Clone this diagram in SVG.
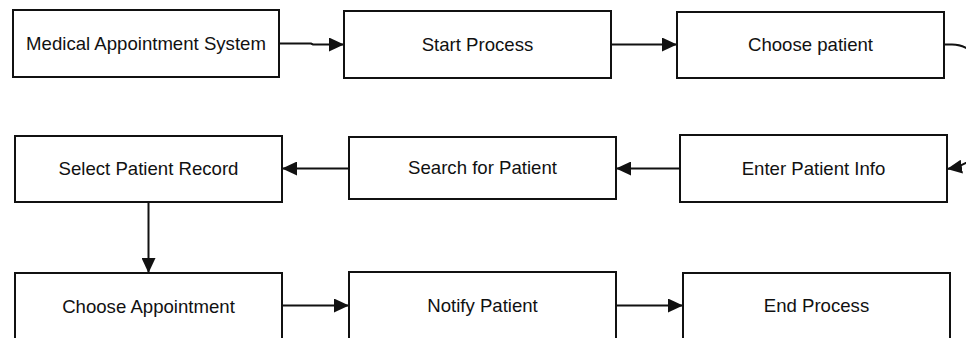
<svg xmlns="http://www.w3.org/2000/svg" width="966" height="338" viewBox="0 0 966 338">
  <style>
    .box { fill: #ffffff; stroke: #111111; stroke-width: 2; }
    .lbl { font-family: "Liberation Sans", Arial, Helvetica, sans-serif; font-size: 18.6px; fill: #111111; text-anchor: middle; }
    .edge { fill: none; stroke: #111111; stroke-width: 2; }
  </style>
  <defs>
    <marker id="arrow" viewBox="0 0 15 14" refX="15" refY="7" markerWidth="15" markerHeight="14" markerUnits="userSpaceOnUse" orient="auto">
      <path d="M0,0 L15,7 L0,14 Z" fill="#111111"/>
    </marker>
  </defs>
  <rect width="966" height="338" fill="#ffffff"/>

  <g id="connectors">
    <path class="edge" d="M279,43.5 L311,43.5 L313,44.5 L344,44.5" marker-end="url(#arrow)"/>
    <path class="edge" d="M611,44.5 L677,44.5" marker-end="url(#arrow)"/>
    <path class="edge" d="M944,44.5 L952,44.5 C968,44.5 990,58 990,106 C990,145 978,164 947,169" marker-end="url(#arrow)"/>
    <path class="edge" d="M680,168.5 L616,168.5" marker-end="url(#arrow)"/>
    <path class="edge" d="M349,168.5 L282,168.5" marker-end="url(#arrow)"/>
    <path class="edge" d="M148.5,202 L148.5,273" marker-end="url(#arrow)"/>
    <path class="edge" d="M282,305.5 L349,305.5" marker-end="url(#arrow)"/>
    <path class="edge" d="M616,305.5 L683,305.5" marker-end="url(#arrow)"/>
  </g>

  <g id="medical-appointment-system">
    <rect class="box" x="13" y="10" width="266" height="67"/>
    <text class="lbl" x="146" y="50">Medical Appointment System</text>
  </g>
  <g id="start-process">
    <rect class="box" x="344" y="11" width="267" height="67"/>
    <text class="lbl" x="477.5" y="51">Start Process</text>
  </g>
  <g id="choose-patient">
    <rect class="box" x="677" y="12" width="267" height="66"/>
    <text class="lbl" x="810.5" y="51">Choose patient</text>
  </g>
  <g id="enter-patient-info">
    <rect class="box" x="680" y="135" width="267" height="67"/>
    <text class="lbl" x="813.5" y="175">Enter Patient Info</text>
  </g>
  <g id="search-for-patient">
    <rect class="box" x="349" y="137" width="267" height="62"/>
    <text class="lbl" x="482.5" y="174">Search for Patient</text>
  </g>
  <g id="select-patient-record">
    <rect class="box" x="15" y="136" width="267" height="66"/>
    <text class="lbl" x="148.5" y="175">Select Patient Record</text>
  </g>
  <g id="choose-appointment">
    <rect class="box" x="15" y="273" width="267" height="80"/>
    <text class="lbl" x="148.5" y="313">Choose Appointment</text>
  </g>
  <g id="notify-patient">
    <rect class="box" x="349" y="272" width="267" height="80"/>
    <text class="lbl" x="482.5" y="312">Notify Patient</text>
  </g>
  <g id="end-process">
    <rect class="box" x="683" y="273" width="267" height="80"/>
    <text class="lbl" x="816.5" y="312">End Process</text>
  </g>
</svg>
